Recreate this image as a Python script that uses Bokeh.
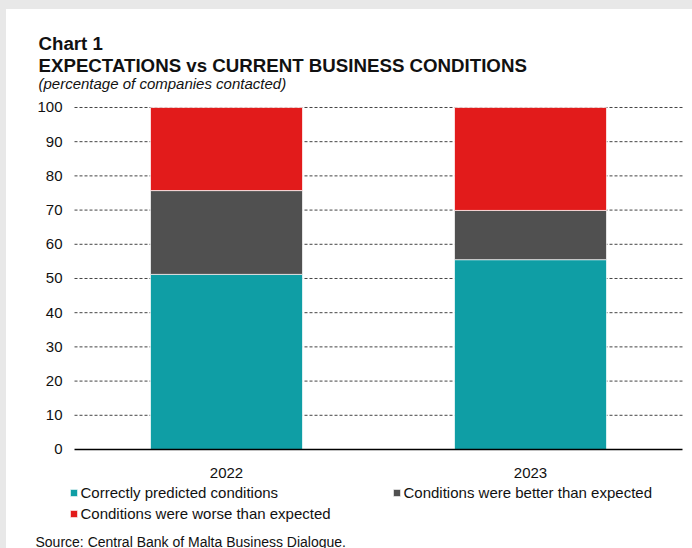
from bokeh.plotting import figure
from bokeh.models import ColumnDataSource, Range1d, Label, Legend, LegendItem, Spacer
from bokeh.layouts import column, row
from bokeh.core.properties import value
from bokeh.embed import file_html
from bokeh.resources import INLINE

years = ["2022", "2023"]
correct = [51.2, 55.5]
better = [24.5, 14.4]
worse = [24.3, 30.1]
series = ["correct", "better", "worse"]
labels = ["Correctly predicted conditions", "Conditions were better than expected",
          "Conditions were worse than expected"]
colors = ["#0f9ea5", "#505050", "#e21b1b"]
y_ticks = list(range(0, 101, 10))
chart_no = "Chart 1"
title = "EXPECTATIONS vs CURRENT BUSINESS CONDITIONS"
subtitle = "(percentage of companies contacted)"
note = "Source: Central Bank of Malta Business Dialogue."

idx = list(range(len(years)))
source = ColumnDataSource(dict(x=idx, year=years, correct=correct, better=better, worse=worse))

FONT = "Liberation Sans"
TXT = "#111111"
GREY = "#e8e8e8"
W, H = 686, 539

# whole canvas is the plotting frame; category bands are [i-0.5, i+0.5]
p = figure(width=W, height=H, x_range=Range1d(-0.7237, 1.5329), y_range=Range1d(-28.95, 128.65),
           x_axis_type=None, y_axis_type=None, output_backend="svg", toolbar_location=None,
           min_border=0)
p.title.visible = False
p.outline_line_color = None
p.grid.visible = False
p.background_fill_color = "white"
p.border_fill_color = "white"

band_lo, band_hi = -0.5, len(years) - 0.5

# dashed gridlines across the category bands
grid_y = [t for t in y_ticks if t > 0]
p.segment(x0=[band_lo] * len(grid_y), x1=[band_hi] * len(grid_y), y0=grid_y, y1=grid_y,
          line_color="#444444", line_dash="3 2", line_width=1)

renderers = p.vbar_stack(series, x="x", width=0.5, color=colors, source=source,
                         line_color="white", line_width=0.7)

# baseline (x axis line)
p.segment(x0=[band_lo], x1=[band_hi], y0=[0], y1=[0], line_color="black", line_width=1.6)

# y tick labels
p.text(x=[band_lo] * len(y_ticks), y=y_ticks, text=[str(t) for t in y_ticks], x_offset=-12,
       text_align="right", text_baseline="middle", text_font=value(FONT),
       text_font_size="15px", text_color=TXT)
# x category labels
p.text(x=idx, y=[0] * len(idx), text=years, y_offset=23.5, text_align="center",
       text_baseline="alphabetic", text_font=value(FONT), text_font_size="15px",
       text_color=TXT)


def lab(text, x, y, size, style="normal"):
    p.add_layout(Label(text=text, x=x, y=y, x_units="canvas", y_units="canvas",
                       text_font=FONT, text_font_size=size, text_font_style=style,
                       text_color=TXT, text_baseline="alphabetic", text_align="left"))


lab(chart_no, 32, 34, "18.7px", "bold")
lab(title, 32, 56, "18.7px", "bold")
lab(subtitle, 32, 74, "15px", "italic")
lab(note, 29, 532, "14px")

common = dict(orientation="vertical", glyph_width=9, glyph_height=9, label_text_font=FONT,
              label_text_font_size="15px", label_text_color=TXT, label_standoff=3, padding=0,
              margin=0, border_line_color=None, background_fill_alpha=0, label_height=17,
              spacing=4)
legA = Legend(items=[LegendItem(label=labels[0], renderers=[renderers[0]]),
                     LegendItem(label=labels[2], renderers=[renderers[2]])],
              location=(62.5, 26.5), **common)
legB = Legend(items=[LegendItem(label=labels[1], renderers=[renderers[1]])],
              location=(385.5, 47.5), **common)
p.add_layout(legA)
p.add_layout(legB)

layout = column(Spacer(width=692, height=9, styles={"background-color": GREY}),
                row(Spacer(width=6, height=H, styles={"background-color": GREY}), p))

open("out.html", "w").write(file_html(layout, INLINE))
